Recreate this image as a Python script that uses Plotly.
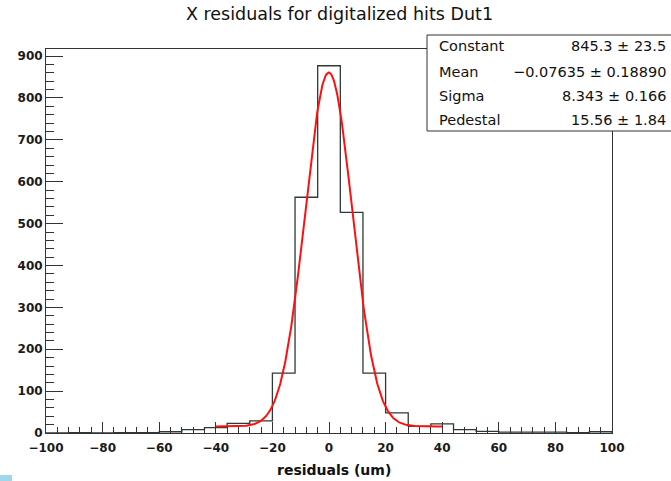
import numpy as np
import plotly.graph_objects as go

# ---- data ----
bin_edges = list(range(-100, 101, 8))  # 25 bins of width 8
counts = [0, 1, 0, 1, 1, 3, 8, 13, 23, 29, 143, 563, 877, 527, 143, 48, 16, 22, 8, 4, 2, 2, 2, 1, 3]

fit_names = ["Constant", "Mean", "Sigma", "Pedestal"]
fit_values = [845.3, -0.07635, 8.343, 15.56]
fit_errors = [23.5, 0.18890, 0.166, 1.84]
fit_text = ["845.3 ± 23.5", "−0.07635 ± 0.18890", "8.343 ± 0.166", "15.56 ± 1.84"]
fit_range = [-40, 40]

title_text = "X residuals for digitalized hits Dut1"
x_title = "residuals (um)"

# ---- geometry ----
W, H = 671, 481
L, R, T, B = 46, 612, 49, 433
pw, ph = R - L, B - T


def px(xp):
    return (xp - L) / pw


def py(yp):
    return (B - yp) / ph


FONT = "DejaVu Sans"

fig = go.Figure()

# histogram outline
hx = [bin_edges[0]] + bin_edges + [bin_edges[-1]]
hy = [0] + counts + [counts[-1]] + [0]
fig.add_trace(go.Scatter(x=hx, y=hy, mode="lines", line=dict(shape="hv", color="#2e3a36", width=1.3),
                         hoverinfo="skip", showlegend=False))

# fit curve from parameters
const, mean, sigma, ped = fit_values
xs = np.linspace(fit_range[0], fit_range[1], 401)
ys = const * np.exp(-0.5 * ((xs - mean) / sigma) ** 2) + ped
fig.add_trace(go.Scatter(x=xs, y=ys, mode="lines", line=dict(color="#ff1010", width=2),
                         hoverinfo="skip", showlegend=False))

axis_common = dict(showgrid=False, zeroline=False, showline=True, linecolor="#333", linewidth=1,
                   mirror=True, ticks="inside", tickcolor="#333", tickwidth=1,
                   tickfont=dict(family=FONT, size=12, color="#1a1a1a", weight="bold"))

fig.update_xaxes(range=[-100, 100], tickvals=list(range(-100, 101, 20)), ticklen=11,
                 ticklabelstandoff=4,
                 minor=dict(dtick=4, tick0=-100, ticks="inside", ticklen=6, tickcolor="#333"),
                 **axis_common)
fig.update_yaxes(range=[0, 917], tickvals=list(range(0, 901, 100)), ticklen=17,
                 minor=dict(dtick=20, tick0=0, ticks="inside", ticklen=8, tickcolor="#333"),
                 **axis_common)

shapes = []
# stats box
shapes.append(dict(type="rect", xref="paper", yref="paper", x0=px(427), x1=px(676), y0=py(131), y1=py(35),
                   fillcolor="white", line=dict(color="#333", width=1), layer="above"))
# little blue square bottom-left
shapes.append(dict(type="rect", xref="paper", yref="paper", x0=px(0), x1=px(12), y0=py(481), y1=py(475),
                   fillcolor="#9fd6ea", line=dict(width=0), layer="above"))

annotations = []
row_y = [46, 72, 96, 120]
for name, txt, yy in zip(fit_names, fit_text, row_y):
    annotations.append(dict(xref="paper", yref="paper", x=px(437), y=py(yy), text=name, showarrow=False,
                            xanchor="left", yanchor="middle", font=dict(family=FONT, size=14.5, color="#111")))
    annotations.append(dict(xref="paper", yref="paper", x=px(668), y=py(yy), text=txt, showarrow=False,
                            xanchor="right", yanchor="middle", font=dict(family=FONT, size=14.5, color="#111")))

annotations.append(dict(xref="paper", yref="paper", x=px(334), y=py(470), text=x_title, showarrow=False,
                        xanchor="center", yanchor="middle",
                        font=dict(family=FONT, size=14, color="#111", weight="bold")))

fig.update_layout(
    width=W, height=H,
    margin=dict(l=L, r=W - R, t=T, b=H - B),
    paper_bgcolor="white", plot_bgcolor="white",
    title=dict(text=title_text, x=339.5 / W, xanchor="center", xref="container",
               y=1 - 14 / H, yanchor="middle", yref="container",
               font=dict(family=FONT, size=17.5, color="#111")),
    shapes=shapes, annotations=annotations,
)

fig.write_html("out.html")
